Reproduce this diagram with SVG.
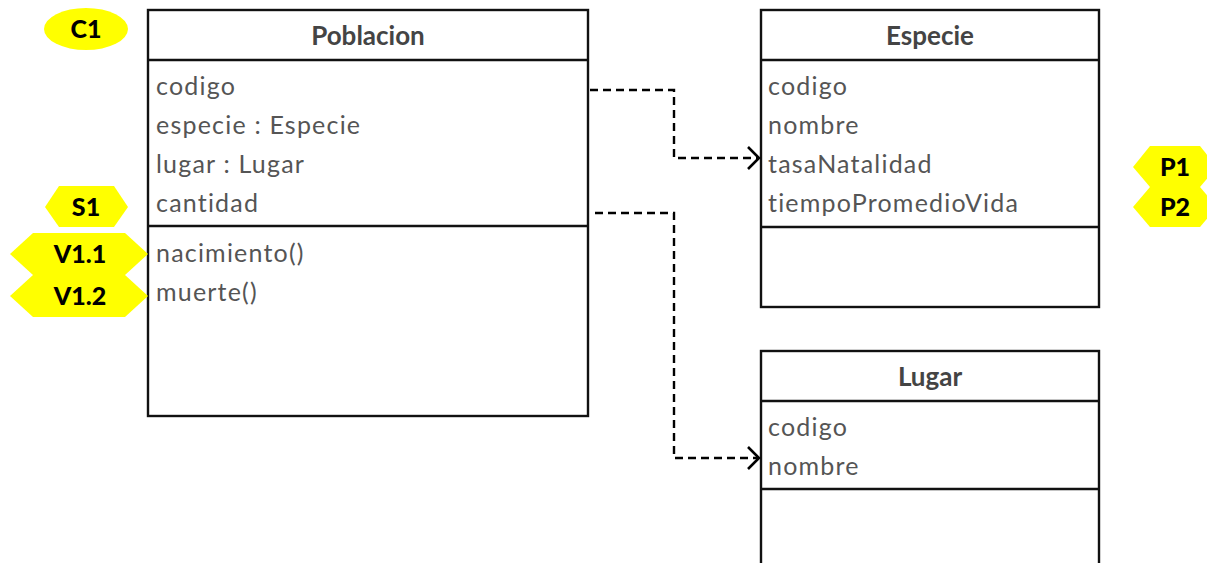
<svg xmlns="http://www.w3.org/2000/svg" width="1207" height="563" viewBox="0 0 1207 563">
  <style>
    .box { fill: #ffffff; stroke: #111111; stroke-width: 2.4; }
    .sep { stroke: #111111; stroke-width: 2.4; }
    .title { font-family: Lato, "Liberation Sans", sans-serif; font-size: 26px; font-weight: bold; fill: #444444; text-anchor: middle; }
    .item { font-family: Lato, "Liberation Sans", sans-serif; font-size: 25px; letter-spacing: 1.2px; fill: #555555; }
    .tag { fill: #ffff00; }
    .tagtext { font-family: Lato, "Liberation Sans", sans-serif; font-size: 25px; font-weight: 900; fill: #000000; text-anchor: middle; }
    .link { fill: none; stroke: #000000; stroke-width: 2.4; stroke-dasharray: 8 5; }
  </style>
  <defs>
    <marker id="open" markerWidth="16" markerHeight="26" refX="13" refY="12" orient="auto" markerUnits="userSpaceOnUse">
      <path d="M2,1 L13,12 L2,23" fill="none" stroke="#000000" stroke-width="2.6"/>
    </marker>
  </defs>

  <!-- class Poblacion -->
  <g id="poblacion">
    <rect class="box" x="148" y="10" width="440" height="406"/>
    <line class="sep" x1="148" y1="60" x2="588" y2="60"/>
    <line class="sep" x1="148" y1="226" x2="588" y2="226"/>
    <text class="title" x="368" y="45">Poblacion</text>
    <text class="item" x="156" y="95">codigo</text>
    <text class="item" x="156" y="134">especie : Especie</text>
    <text class="item" x="156" y="173">lugar : Lugar</text>
    <text class="item" x="156" y="212">cantidad</text>
    <text class="item" x="156" y="262">nacimiento()</text>
    <text class="item" x="156" y="301">muerte()</text>
  </g>

  <!-- class Especie -->
  <g id="especie">
    <rect class="box" x="761" y="10" width="338" height="297"/>
    <line class="sep" x1="761" y1="60" x2="1099" y2="60"/>
    <line class="sep" x1="761" y1="227" x2="1099" y2="227"/>
    <text class="title" x="930" y="45">Especie</text>
    <text class="item" x="768" y="95">codigo</text>
    <text class="item" x="768" y="134">nombre</text>
    <text class="item" x="768" y="173">tasaNatalidad</text>
    <text class="item" x="768" y="212">tiempoPromedioVida</text>
  </g>

  <!-- class Lugar -->
  <g id="lugar">
    <rect class="box" x="761" y="351" width="338" height="230"/>
    <line class="sep" x1="761" y1="401" x2="1099" y2="401"/>
    <line class="sep" x1="761" y1="489" x2="1099" y2="489"/>
    <text class="title" x="930" y="386">Lugar</text>
    <text class="item" x="768" y="436">codigo</text>
    <text class="item" x="768" y="475">nombre</text>
  </g>

  <!-- dependencies -->
  <g id="connectors">
    <path class="link" d="M590,90 H674 V158 H759" marker-end="url(#open)"/>
    <path class="link" d="M595,213 H674 V458 H759" marker-end="url(#open)"/>
  </g>

  <!-- annotation tags -->
  <g id="tag-c1">
    <ellipse class="tag" cx="86" cy="29" rx="42" ry="21"/>
    <text class="tagtext" x="86" y="38">C1</text>
  </g>
  <g id="tag-s1">
    <polygon class="tag" points="45,207 59,186 114,186 128,207 114,227 59,227"/>
    <text class="tagtext" x="86" y="216">S1</text>
  </g>
  <g id="tag-v11">
    <polygon class="tag" points="10,254 33,233 125,233 148,254 125,275 33,275"/>
    <text class="tagtext" x="80" y="263">V1.1</text>
  </g>
  <g id="tag-v12">
    <polygon class="tag" points="10,296 33,275 125,275 148,296 125,317 33,317"/>
    <text class="tagtext" x="80" y="305">V1.2</text>
  </g>
  <g id="tag-p1">
    <polygon class="tag" points="1133,167 1150,146 1200,146 1217,167 1200,187 1150,187"/>
    <text class="tagtext" x="1175" y="176">P1</text>
  </g>
  <g id="tag-p2">
    <polygon class="tag" points="1133,207 1150,187 1200,187 1217,207 1200,227 1150,227"/>
    <text class="tagtext" x="1175" y="216">P2</text>
  </g>
</svg>
